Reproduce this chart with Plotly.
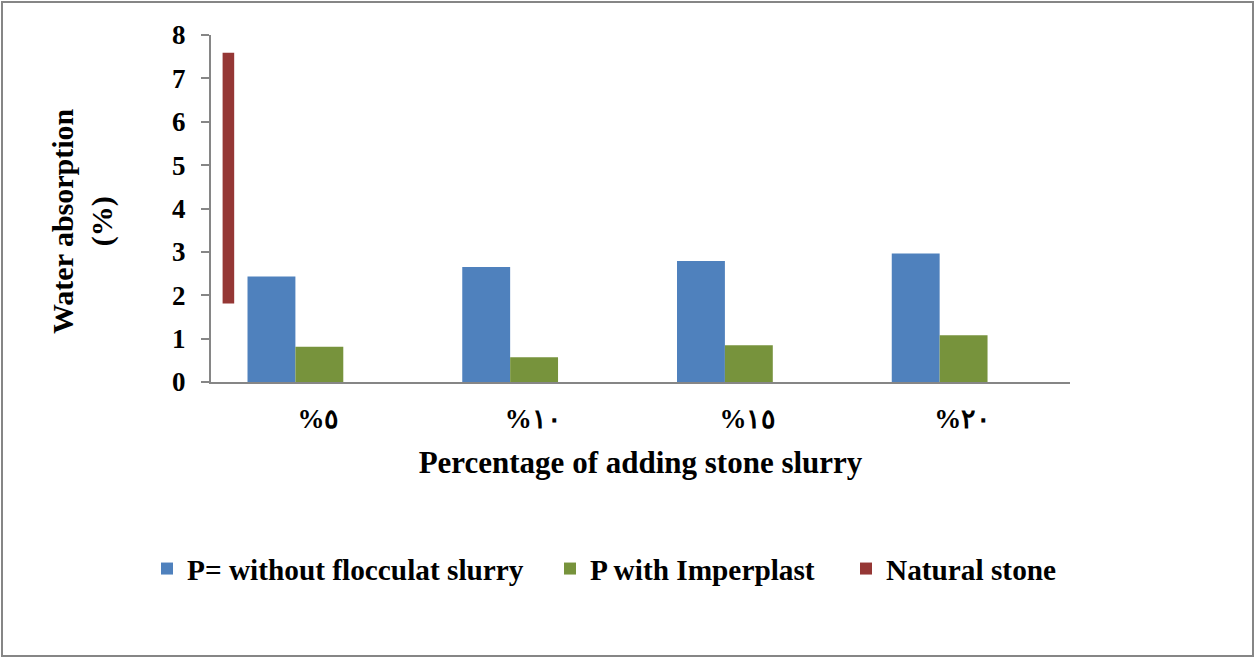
import plotly.graph_objects as go

categories = ["%٥", "%١٠", "%١٥", "%٢٠"]
cat_pos = [0, 1, 2, 3]
without_flocculat = [2.43, 2.65, 2.79, 2.96]
with_imperplast = [0.81, 0.57, 0.85, 1.08]
natural_stone_low = [1.81]
natural_stone_high = [7.59]
y_ticks = [0, 1, 2, 3, 4, 5, 6, 7, 8]

FONT = "Liberation Serif, Times New Roman, serif"
BLUE = "#4F81BD"
GREEN = "#77933C"
RED = "#953735"
GRAY = "#868686"

fig = go.Figure()
fig.add_trace(go.Bar(
    x=cat_pos, y=without_flocculat, name="P= without flocculat slurry",
    marker=dict(color=BLUE, line=dict(width=0)), offset=-0.33, width=0.223,
    legend="legend"))
fig.add_trace(go.Bar(
    x=cat_pos, y=with_imperplast, name="P with Imperplast",
    marker=dict(color=GREEN, line=dict(width=0)), offset=-0.107, width=0.223,
    legend="legend2"))
fig.add_trace(go.Bar(
    x=cat_pos[:1], y=[h - l for h, l in zip(natural_stone_high, natural_stone_low)],
    base=natural_stone_low, name="Natural stone",
    marker=dict(color=RED, line=dict(width=0)), offset=-0.446, width=0.054,
    legend="legend3"))

W, H = 1255, 658
L, R, T, B = 211, 185, 35, 276
pw, ph = W - L - R, H - T - B

def px_x(p):
    return (p - L) / pw

def px_y(p):
    return (H - B - p) / ph

legend_font = dict(family=FONT, size=29.3, color="black", weight="bold")
common_leg = dict(orientation="h", yanchor="middle", xanchor="left",
                  y=px_y(569), font=legend_font, bgcolor="rgba(0,0,0,0)",
                  borderwidth=0)

fig.update_layout(
    width=W, height=H,
    margin=dict(l=L, r=R, t=T, b=B),
    paper_bgcolor="white", plot_bgcolor="white",
    barmode="overlay",
    showlegend=True,
    legend=dict(x=px_x(147), **common_leg),
    legend2=dict(x=px_x(550), **common_leg),
    legend3=dict(x=px_x(846), **common_leg),
    xaxis=dict(
        range=[-0.5, 3.5], tickmode="array", tickvals=cat_pos, ticktext=categories,
        showgrid=False, zeroline=False, showline=True, linecolor=GRAY, linewidth=2,
        ticks="", ticklabelstandoff=12,
        tickfont=dict(family=FONT, size=27, color="black", weight="bold"),
        title=dict(text="Percentage of adding stone slurry", standoff=18,
                   font=dict(family=FONT, size=31, color="black", weight="bold")),
    ),
    yaxis=dict(
        range=[0, 8], tickmode="array", tickvals=y_ticks,
        showgrid=False, zeroline=False, showline=True, linecolor=GRAY, linewidth=2,
        ticks="outside", ticklen=8, tickcolor=GRAY, tickwidth=2, ticklabelstandoff=10,
        tickfont=dict(family=FONT, size=27, color="black", weight="bold"),
    ),
    annotations=[dict(
        text="Water absorption<br>(%)", textangle=-90, showarrow=False,
        xref="paper", yref="paper", x=px_x(82), y=px_y(221),
        xanchor="center", yanchor="middle",
        font=dict(family=FONT, size=30, color="black", weight="bold"))],
    shapes=[dict(type="rect", xref="paper", yref="paper",
                 x0=px_x(2), x1=px_x(1253), y0=px_y(656), y1=px_y(2),
                 line=dict(color=GRAY, width=2), fillcolor="rgba(0,0,0,0)")],
)

fig.write_html("out.html")
